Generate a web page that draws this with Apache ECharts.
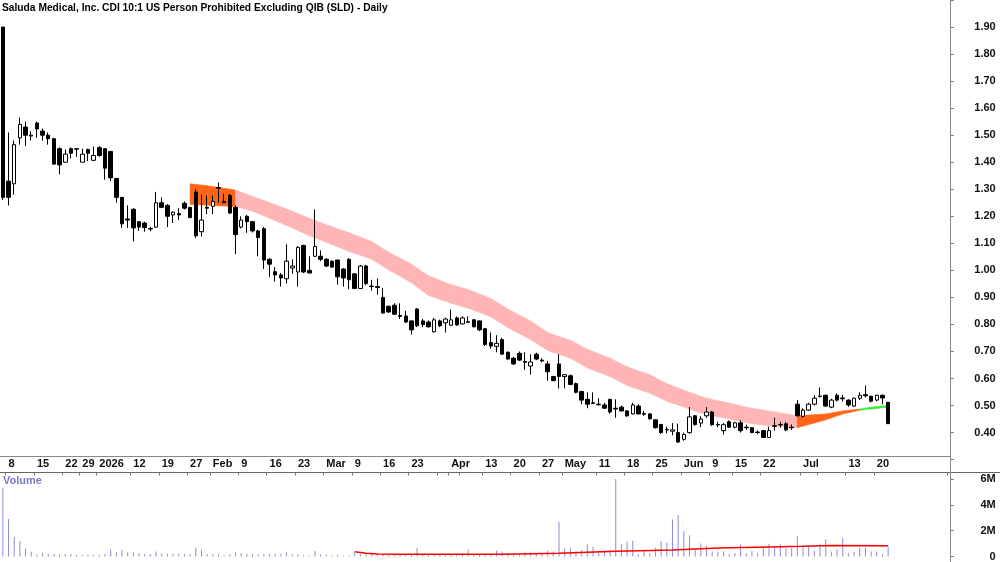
<!DOCTYPE html>
<html>
<head>
<meta charset="utf-8">
<script src="https://cdn.jsdelivr.net/npm/echarts@6/dist/echarts.min.js"></script>
<style>
  html, body { margin: 0; padding: 0; background: #fff; }
  #chart { width: 1000px; height: 562px; }
</style>
</head>
<body>
<div id="chart"></div>
<script>
// ASX trading days, first bar 5 Dec 2025; extra empty days fill the right margin
var holidays = ['2025-12-25', '2025-12-26', '2026-01-01', '2026-01-26', '2026-04-03', '2026-04-06', '2026-06-08'];
var NDAYS = 167;

// [open, high, low, close]
var candles = [
  [1.90, 1.90, 1.26, 1.27], [1.33, 1.51, 1.24, 1.27], [1.32, 1.48, 1.28, 1.465], [1.49, 1.565, 1.465, 1.54],
  [1.53, 1.55, 1.46, 1.50], [1.497, 1.515, 1.48, 1.50], [1.545, 1.55, 1.49, 1.523], [1.515, 1.525, 1.48, 1.50],
  [1.50, 1.51, 1.465, 1.487], [1.487, 1.49, 1.39, 1.393], [1.45, 1.455, 1.355, 1.39], [1.40, 1.447, 1.40, 1.43],
  [1.45, 1.455, 1.414, 1.433], [1.45, 1.452, 1.42, 1.448], [1.40, 1.45, 1.40, 1.43], [1.447, 1.45, 1.404, 1.433],
  [1.407, 1.458, 1.405, 1.425], [1.454, 1.46, 1.42, 1.425], [1.45, 1.45, 1.335, 1.378], [1.44, 1.44, 1.33, 1.342],
  [1.34, 1.34, 1.25, 1.27], [1.27, 1.27, 1.157, 1.172], [1.19, 1.24, 1.157, 1.186], [1.226, 1.23, 1.107, 1.157],
  [1.18, 1.18, 1.146, 1.16], [1.175, 1.18, 1.143, 1.158], [1.155, 1.16, 1.145, 1.153], [1.16, 1.29, 1.158, 1.25],
  [1.25, 1.27, 1.23, 1.233], [1.24, 1.245, 1.16, 1.20], [1.205, 1.218, 1.175, 1.215], [1.21, 1.23, 1.186, 1.205],
  [1.248, 1.255, 1.225, 1.23], [1.233, 1.235, 1.193, 1.195], [1.29, 1.30, 1.12, 1.128], [1.143, 1.28, 1.125, 1.186],
  [1.233, 1.277, 1.208, 1.23], [1.237, 1.277, 1.208, 1.255], [1.306, 1.325, 1.25, 1.304], [1.255, 1.283, 1.25, 1.25],
  [1.277, 1.283, 1.208, 1.212], [1.233, 1.24, 1.06, 1.132], [1.16, 1.20, 1.155, 1.186], [1.20, 1.205, 1.139, 1.18],
  [1.18, 1.183, 1.14, 1.146], [1.146, 1.15, 1.052, 1.121], [1.154, 1.16, 1.005, 1.038], [1.041, 1.045, 0.976, 1.023],
  [0.995, 1.012, 0.958, 0.983], [0.983, 0.99, 0.94, 0.972], [0.969, 1.096, 0.951, 1.034], [1.009, 1.041, 0.987, 1.016],
  [0.994, 1.09, 0.94, 1.085], [1.092, 1.095, 0.99, 0.994], [1.0, 1.052, 0.99, 0.99], [1.052, 1.225, 1.05, 1.088],
  [1.052, 1.074, 1.034, 1.041], [1.041, 1.045, 1.012, 1.016], [1.034, 1.036, 1.01, 1.012], [1.038, 1.04, 0.947, 0.976],
  [1.005, 1.008, 0.94, 0.972], [1.041, 1.045, 0.93, 0.965], [0.987, 0.99, 0.93, 0.933], [0.933, 1.02, 0.93, 1.016],
  [1.016, 1.02, 0.945, 0.951], [0.942, 0.965, 0.925, 0.94], [0.94, 0.97, 0.91, 0.937], [0.90, 0.935, 0.84, 0.842],
  [0.867, 0.87, 0.843, 0.846], [0.871, 0.878, 0.835, 0.838], [0.833, 0.878, 0.82, 0.83], [0.831, 0.85, 0.805, 0.809],
  [0.813, 0.815, 0.763, 0.78], [0.857, 0.86, 0.79, 0.795], [0.813, 0.82, 0.79, 0.80], [0.809, 0.815, 0.789, 0.791],
  [0.773, 0.824, 0.77, 0.817], [0.813, 0.818, 0.79, 0.795], [0.806, 0.825, 0.77, 0.82], [0.797, 0.855, 0.795, 0.817],
  [0.824, 0.83, 0.795, 0.798], [0.802, 0.83, 0.80, 0.824], [0.81, 0.83, 0.805, 0.808], [0.817, 0.82, 0.79, 0.791],
  [0.813, 0.815, 0.775, 0.78], [0.784, 0.786, 0.72, 0.726], [0.733, 0.77, 0.71, 0.72], [0.719, 0.76, 0.697, 0.73],
  [0.744, 0.75, 0.688, 0.69], [0.697, 0.70, 0.67, 0.672], [0.675, 0.68, 0.65, 0.654], [0.693, 0.70, 0.665, 0.668],
  [0.663, 0.697, 0.632, 0.66], [0.646, 0.69, 0.614, 0.661], [0.69, 0.695, 0.668, 0.672], [0.668, 0.675, 0.66, 0.665],
  [0.654, 0.665, 0.592, 0.625], [0.607, 0.61, 0.59, 0.592], [0.654, 0.69, 0.563, 0.607], [0.607, 0.615, 0.563, 0.614],
  [0.61, 0.615, 0.575, 0.578], [0.581, 0.585, 0.545, 0.549], [0.552, 0.555, 0.505, 0.52], [0.523, 0.549, 0.49, 0.505],
  [0.51, 0.549, 0.505, 0.508], [0.505, 0.527, 0.50, 0.503], [0.502, 0.51, 0.488, 0.49], [0.523, 0.525, 0.47, 0.476],
  [0.49, 0.523, 0.455, 0.487], [0.494, 0.50, 0.478, 0.48], [0.48, 0.483, 0.458, 0.462], [0.469, 0.51, 0.467, 0.502],
  [0.498, 0.505, 0.467, 0.469], [0.47, 0.48, 0.462, 0.468], [0.469, 0.472, 0.448, 0.451], [0.447, 0.45, 0.415, 0.418],
  [0.43, 0.432, 0.395, 0.40], [0.412, 0.422, 0.397, 0.41], [0.405, 0.435, 0.39, 0.41], [0.40, 0.433, 0.362, 0.365],
  [0.375, 0.40, 0.37, 0.393], [0.40, 0.494, 0.395, 0.458], [0.462, 0.465, 0.425, 0.43], [0.435, 0.46, 0.42, 0.45],
  [0.462, 0.494, 0.455, 0.476], [0.476, 0.48, 0.425, 0.429], [0.43, 0.44, 0.42, 0.428], [0.407, 0.435, 0.393, 0.429],
  [0.44, 0.445, 0.418, 0.42], [0.42, 0.44, 0.415, 0.436], [0.436, 0.445, 0.40, 0.407], [0.42, 0.43, 0.41, 0.418],
  [0.418, 0.42, 0.398, 0.40], [0.402, 0.408, 0.395, 0.40], [0.407, 0.41, 0.38, 0.382], [0.382, 0.422, 0.38, 0.407],
  [0.425, 0.455, 0.407, 0.423], [0.43, 0.44, 0.418, 0.428], [0.433, 0.44, 0.405, 0.41], [0.42, 0.43, 0.41, 0.418],
  [0.505, 0.52, 0.46, 0.462], [0.46, 0.49, 0.455, 0.483], [0.483, 0.51, 0.48, 0.505], [0.505, 0.538, 0.50, 0.527],
  [0.535, 0.567, 0.53, 0.533], [0.538, 0.54, 0.495, 0.498], [0.494, 0.525, 0.49, 0.52], [0.538, 0.545, 0.515, 0.52],
  [0.528, 0.54, 0.515, 0.525], [0.52, 0.523, 0.495, 0.502], [0.498, 0.53, 0.495, 0.527], [0.527, 0.549, 0.52, 0.538],
  [0.54, 0.574, 0.53, 0.536], [0.534, 0.537, 0.512, 0.516], [0.52, 0.54, 0.516, 0.538], [0.538, 0.54, 0.505, 0.528],
  [0.512, 0.512, 0.433, 0.433]
];

// volume, millions
var volume = [
  5.3, 2.9, 1.5, 1.19, 0.61, 0.36, 0.15, 0.28, 0.2, 0.2, 0.2, 0.2, 0.2, 0.13, 0.13, 0.13, 0.13, 0.13, 0.2, 0.53,
  0.33, 0.53, 0.33, 0.3, 0.25, 0.2, 0.2, 0.38, 0.25, 0.22, 0.2, 0.2, 0.2, 0.2, 0.68, 0.53, 0.2, 0.18, 0.18, 0.1,
  0.15, 0.3, 0.25, 0.2, 0.2, 0.2, 0.2, 0.2, 0.2, 0.2, 0.33, 0.2, 0.18, 0.1, 0.08, 0.43, 0.15, 0.13, 0.08, 0.13,
  0.08, 0.08, 0.3, 0.2, 0.15, 0.15, 0.15, 0.2, 0.15, 0.15, 0.18, 0.15, 0.2, 0.63, 0.15, 0.18, 0.2, 0.25, 0.2, 0.2,
  0.2, 0.25, 0.56, 0.2, 0.15, 0.2, 0.2, 0.46, 0.38, 0.25, 0.23, 0.18, 0.33, 0.3, 0.2, 0.18, 0.46, 0.38, 2.66, 0.63,
  0.68, 0.38, 0.51, 0.94, 0.76, 0.25, 0.38, 0.51, 6.0, 0.94, 1.14, 1.22, 0.18, 0.46, 0.25, 0.68, 1.19, 1.09, 2.86, 3.22,
  1.95, 1.65, 0.51, 1.01, 0.84, 0.38, 0.38, 0.38, 0.18, 0.25, 0.94, 0.23, 0.43, 0.25, 0.76, 0.99, 0.76, 0.94, 0.63, 0.63,
  1.57, 0.84, 0.84, 0.43, 0.94, 1.34, 0.38, 0.56, 1.44, 0.25, 0.33, 0.68, 0.68, 0.38, 0.38, 0.18, 0.76
];

// volume average line, [day index, millions]
var volAvg = [
  [62, 0.36], [64, 0.25], [66, 0.2], [70, 0.18], [88, 0.18], [98, 0.25], [108, 0.4], [118, 0.5],
  [126, 0.66], [135, 0.74], [141, 0.79], [146, 0.86], [156, 0.84]
];

// ribbon: [day index, upper, lower, colour key]
var bandRows = [
  [33, 1.320, 1.244, 'o'], [36, 1.313, 1.241, 'o'], [40.5, 1.297, 1.236, 'p'], [44, 1.273, 1.219, 'p'],
  [47, 1.251, 1.193, 'p'], [51, 1.219, 1.157, 'p'], [54, 1.193, 1.128, 'p'], [58, 1.161, 1.096, 'p'],
  [61, 1.139, 1.070, 'p'], [65, 1.107, 1.041, 'p'], [68, 1.067, 1.001, 'p'], [72, 1.023, 0.954, 'p'],
  [75, 0.980, 0.907, 'p'], [79, 0.947, 0.878, 'p'], [82, 0.929, 0.860, 'p'], [86, 0.896, 0.828, 'p'],
  [89, 0.857, 0.788, 'p'], [93, 0.813, 0.744, 'p'], [96, 0.770, 0.704, 'p'], [100, 0.741, 0.675, 'p'],
  [103, 0.708, 0.639, 'p'], [107, 0.675, 0.607, 'p'], [110, 0.643, 0.574, 'p'], [114, 0.614, 0.545, 'p'],
  [117, 0.581, 0.516, 'p'], [121, 0.549, 0.487, 'p'], [124, 0.527, 0.465, 'p'], [128, 0.509, 0.451, 'p'],
  [131, 0.494, 0.436, 'p'], [135, 0.480, 0.425, 'p'], [140, 0.462, 0.418, 'o'], [145, 0.469, 0.447, 'o'],
  [148, 0.480, 0.469, 'o'], [151, 0.487, 0.483, 'g'], [153, 0.494, 0.487, 'g'], [156, 0.500, 0.494, 'g']
];
var bandColors = { o: '#ff6419', p: '#ffb5b5', g: '#33ee33' };

// date axis labels
var tickDates = ['2025-12-08', '2025-12-15', '2025-12-22', '2025-12-29', '2026-01-02', '2026-01-12', '2026-01-19',
  '2026-01-27', '2026-02-02', '2026-02-09', '2026-02-16', '2026-02-23', '2026-03-02', '2026-03-09', '2026-03-16',
  '2026-03-23', '2026-03-30', '2026-04-01', '2026-04-07', '2026-04-13', '2026-04-20', '2026-04-27', '2026-05-01',
  '2026-05-11', '2026-05-18', '2026-05-25', '2026-06-01', '2026-06-09', '2026-06-15', '2026-06-22', '2026-07-01',
  '2026-07-06', '2026-07-13', '2026-07-20'];
var tickTexts = ['8', '15', '22', '29', '2026', '12', '19', '27', 'Feb', '9', '16', '23', 'Mar', '9', '16',
  '23', '', 'Apr', '', '13', '20', '27', 'May', '11', '18', '25', 'Jun', '9', '15', '22', 'Jul',
  '', '13', '20'];

function pad(n) { return n < 10 ? '0' + n : '' + n; }
var days = [];
var d = new Date(Date.UTC(2025, 11, 5));
while (days.length < NDAYS) {
  var s = d.getUTCFullYear() + '-' + pad(d.getUTCMonth() + 1) + '-' + pad(d.getUTCDate());
  var wd = d.getUTCDay();
  if (wd !== 0 && wd !== 6 && holidays.indexOf(s) < 0) days.push(s);
  d.setUTCDate(d.getUTCDate() + 1);
}
var tickMap = {};
tickDates.forEach(function (t, k) { tickMap[t] = tickTexts[k]; });

var kData = candles.map(function (c) { return [c[0], c[3], c[2], c[1]]; });
var volData = volume.map(function (v) { return v * 1e6; });
var volAvgData = volAvg.map(function (p) { return [p[0], p[1] * 1e6]; });

var FONT = '"Liberation Sans", Arial, sans-serif';
var W = 5.68, LEFT = 2 - W / 2, GW = W * NDAYS;

var chart = echarts.init(document.getElementById('chart'));
var option = {
  animation: false,
  backgroundColor: '#fff',
  grid: [
    { left: LEFT, width: GW, top: -9.6, height: 469.2 },
    { left: LEFT, width: GW, top: 456.5, height: 16 },
    { left: LEFT, width: GW, top: 472.5, height: 85.5 }
  ],
  xAxis: [
    { type: 'category', gridIndex: 0, data: days, show: false },
    {
      type: 'category', gridIndex: 1, data: days, position: 'top',
      axisLine: { show: false },
      axisTick: {
        show: true, inside: true, length: 3, lineStyle: { color: '#777' },
        interval: function (i, v) { return tickMap.hasOwnProperty(v); }
      },
      axisLabel: {
        inside: true, margin: 2, verticalAlign: 'top', align: 'left',
        fontFamily: FONT, fontSize: 11, fontWeight: 'bold', color: '#111',
        interval: function (i, v) { return !!tickMap[v]; },
        formatter: function (v) { return tickMap[v] || ''; }
      }
    },
    { type: 'category', gridIndex: 2, data: days, show: false }
  ],
  yAxis: [
    {
      type: 'value', gridIndex: 0, position: 'right', offset: 3, min: 0.3, max: 2.0, interval: 0.1,
      splitLine: { show: false },
      axisLine: { show: false },
      axisTick: { show: true, length: 3, lineStyle: { color: '#777' } },
      axisLabel: {
        margin: 45, align: 'right', fontFamily: FONT, fontSize: 11, fontWeight: 'bold', color: '#111',
        formatter: function (v) { return (v < 0.35 || v > 1.95) ? '' : v.toFixed(2); }
      }
    },
    { type: 'value', gridIndex: 1, show: false },
    {
      type: 'value', gridIndex: 2, position: 'right', offset: 3, min: 0, max: 6.5e6, interval: 2e6,
      splitLine: { show: false },
      axisLine: { show: false },
      axisTick: { show: true, length: 3, lineStyle: { color: '#777' } },
      axisLabel: {
        margin: 45, align: 'right', fontFamily: FONT, fontSize: 11, fontWeight: 'bold', color: '#111',
        formatter: function (v) { return v === 0 ? '0' : (v % 2e6 === 0 ? (v / 1e6) + 'M' : ''); }
      }
    }
  ],
  graphic: [
    {
      type: 'text', x: 2, y: 2, scaleX: 0.89, z: 20,
      style: {
        text: 'Saluda Medical, Inc. CDI 10:1 US Person Prohibited Excluding QIB (SLD) - Daily',
        font: 'bold 11.5px ' + FONT, fill: '#000'
      }
    },
    { type: 'line', shape: { x1: 0, y1: 456.5, x2: 951, y2: 456.5 }, style: { stroke: '#888', lineWidth: 1 }, z: 10 },
    { type: 'line', shape: { x1: 0, y1: 472.5, x2: 1000, y2: 472.5 }, style: { stroke: '#666', lineWidth: 1 }, z: 10 },
    { type: 'line', shape: { x1: 950.5, y1: 0, x2: 950.5, y2: 562 }, style: { stroke: '#888', lineWidth: 1 }, z: 10 },
    {
      type: 'text', left: 3, top: 475,
      style: { text: 'Volume', font: 'bold 11px ' + FONT, fill: '#7a7ac4' }
    }
  ],
  series: [
    {
      type: 'custom', xAxisIndex: 0, yAxisIndex: 0, silent: true, z: 1,
      data: bandRows.map(function (r) { return [r[0], r[1], r[2]]; }),
      renderItem: function (params, api) {
        var k = params.dataIndex;
        if (k >= bandRows.length - 1) return null;
        var a = bandRows[k], b = bandRows[k + 1];
        var pts = [api.coord([a[0], a[1]]), api.coord([b[0], b[1]]), api.coord([b[0], b[2]]), api.coord([a[0], a[2]])];
        var c = bandColors[a[3]];
        return { type: 'polygon', shape: { points: pts }, style: { fill: c, stroke: c, lineWidth: 0.6 } };
      }
    },
    {
      type: 'candlestick', xAxisIndex: 0, yAxisIndex: 0, z: 3,
      data: kData, barWidth: 4,
      itemStyle: { color: '#fff', color0: '#000', borderColor: '#000', borderColor0: '#000', borderWidth: 1 }
    },
    {
      type: 'bar', xAxisIndex: 2, yAxisIndex: 2, data: volData, barWidth: 1,
      itemStyle: { color: '#8c8cd8' }
    },
    {
      type: 'line', xAxisIndex: 2, yAxisIndex: 2, data: volAvgData, symbol: 'none', z: 4,
      lineStyle: { color: '#ff0000', width: 1.5 }
    }
  ]
};
chart.setOption(option);
</script>
</body>
</html>
